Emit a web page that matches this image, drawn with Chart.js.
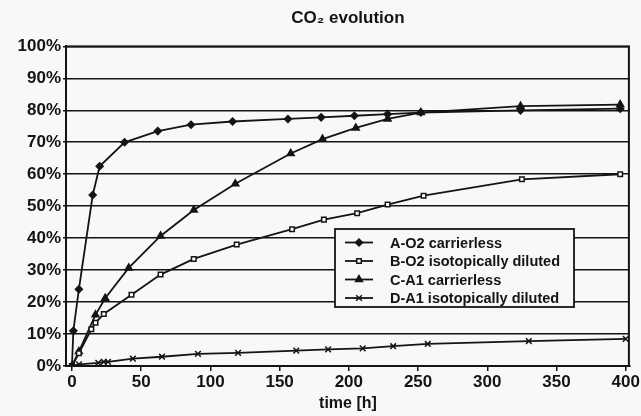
<!DOCTYPE html>
<html>
<head>
<meta charset="utf-8">
<script src="https://cdn.jsdelivr.net/npm/chart.js@4/dist/chart.umd.min.js"></script>
<style>
  html, body { margin: 0; padding: 0; background: #f8f8f6; }
  #wrap { width: 641px; height: 416px; position: relative; }
</style>
</head>
<body>
<div id="wrap"><canvas id="chart"></canvas></div>
<script>
// Values: time [h] and CO2 share [%] per series
const timeA   = [0, 1, 5, 15, 20, 38, 62, 86, 116, 156, 180, 204, 228, 252, 324, 396];
const valuesA = [0, 11, 24, 53.5, 62.5, 70, 73.5, 75.5, 76.5, 77.3, 77.8, 78.3, 78.8, 79.3, 80, 80.5];

const timeB   = [0, 5, 14, 17, 23, 43, 64, 88, 119, 159, 182, 206, 228, 254, 325, 396];
const valuesB = [0, 4, 11.5, 13.5, 16.3, 22.3, 28.6, 33.5, 38, 42.8, 45.8, 47.8, 50.5, 53.3, 58.4, 60];

const timeC   = [0, 5, 17, 24, 41, 64, 88, 118, 158, 181, 205, 228, 252, 324, 396];
const valuesC = [0, 4.5, 16, 21.2, 30.7, 40.7, 48.8, 57, 66.5, 71, 74.5, 77.3, 79.3, 81.3, 81.8];

const timeD   = [0, 5, 19, 23, 26, 44, 65, 91, 120, 162, 185, 210, 232, 257, 330, 400];
const valuesD = [0, 0.5, 1, 1.3, 1.3, 2.3, 2.9, 3.8, 4.1, 4.8, 5.2, 5.5, 6.2, 6.9, 7.8, 8.5];

const seriesNames = ['A-O2 carrierless', 'B-O2 isotopically diluted', 'C-A1 carrierless', 'D-A1 isotopically diluted'];
const xTicks = [0, 50, 100, 150, 200, 250, 300, 350, 400];

const ink = '#141414';
const paper = '#f8f8f6';
const fontFamily = '"Liberation Sans", Arial, sans-serif';

function toPoints(xs, ys) {
    return xs.map((x, i) => ({ x: x, y: ys[i] }));
}

function series(name, xs, ys, style, radius, fill) {
    return {
        label: name,
        data: toPoints(xs, ys),
        showLine: true,
        borderColor: ink,
        borderWidth: 1.8,
        pointStyle: style,
        pointRadius: radius,
        pointBorderWidth: 1.5,
        pointBorderColor: ink,
        pointBackgroundColor: fill
    };
}

// Plot frame and boxed legend inside the plot, like the original
const boxLegend = {
    id: 'boxLegend',
    afterDatasetsDraw(chart) {
        const c = chart.ctx;
        const a = chart.chartArea;
        c.save();
        c.strokeStyle = ink;
        c.lineWidth = 2;
        c.strokeRect(a.left, a.top, a.right - a.left - 1, a.bottom - a.top);

        const bx = 335, by = 229, bw = 239, bh = 78;
        c.fillStyle = paper;
        c.fillRect(bx, by, bw, bh);
        c.lineWidth = 1.8;
        c.strokeRect(bx, by, bw, bh);
        c.font = 'bold 14.5px ' + fontFamily;
        c.textBaseline = 'middle';
        chart.data.datasets.forEach((ds, i) => {
            const y = by + 13.5 + i * 18.5;
            c.strokeStyle = ink;
            c.lineWidth = 1.8;
            c.beginPath();
            c.moveTo(bx + 10, y);
            c.lineTo(bx + 38, y);
            c.stroke();
            c.fillStyle = ds.pointBackgroundColor;
            c.lineWidth = 1.5;
            Chart.helpers.drawPoint(c, { pointStyle: ds.pointStyle, radius: ds.pointRadius, rotation: 0, borderWidth: 1.5 }, bx + 24, y);
            c.fillStyle = ink;
            c.fillText(ds.label, bx + 55, y + 1);
        });
        c.restore();
    }
};

const tickFont = { family: fontFamily, size: 17, weight: 'bold' };

const ctx = document.getElementById('chart').getContext('2d');
const chart = new Chart(ctx, {
    type: 'scatter',
    data: {
        datasets: [
            series(seriesNames[0], timeA, valuesA, 'rectRot', 3.5, ink),
            series(seriesNames[1], timeB, valuesB, 'rect', 3.2, '#ffffff'),
            series(seriesNames[2], timeC, valuesC, 'triangle', 4, ink),
            series(seriesNames[3], timeD, valuesD, 'crossRot', 4, ink)
        ]
    },
    options: {
        animation: false,
        responsive: true,
        maintainAspectRatio: false,
        layout: { padding: { left: 0, right: 11, top: 0, bottom: 0 } },
        plugins: {
            legend: { display: false },
            tooltip: { enabled: false },
            title: {
                display: true,
                fullSize: false,
                text: 'CO₂ evolution',
                color: ink,
                font: { family: fontFamily, size: 17, weight: 'bold' },
                padding: { top: 8, bottom: 18 }
            }
        },
        scales: {
            x: {
                type: 'linear',
                min: -4.3,
                max: 403,
                afterBuildTicks: (scale) => { scale.ticks = xTicks.map(v => ({ value: v })); },
                afterFit: (scale) => { scale.height = 50; },
                grid: { drawOnChartArea: false, drawTicks: true, tickLength: 5, color: ink, lineWidth: 1.5 },
                border: { color: ink, width: 2 },
                ticks: { color: ink, font: tickFont, padding: 1, maxRotation: 0 },
                title: {
                    display: true,
                    text: 'time [h]',
                    color: ink,
                    font: { family: fontFamily, size: 16, weight: 'bold' },
                    padding: { top: 0, bottom: 3 }
                }
            },
            y: {
                min: 0,
                max: 100,
                afterFit: (scale) => { scale.width = 66; },
                grid: { color: ink, lineWidth: 1.6, tickLength: 3 },
                border: { color: ink, width: 2 },
                ticks: { stepSize: 10, color: ink, font: tickFont, padding: 2, callback: v => v + '%' }
            }
        }
    },
    plugins: [boxLegend]
});
</script>
</body>
</html>
